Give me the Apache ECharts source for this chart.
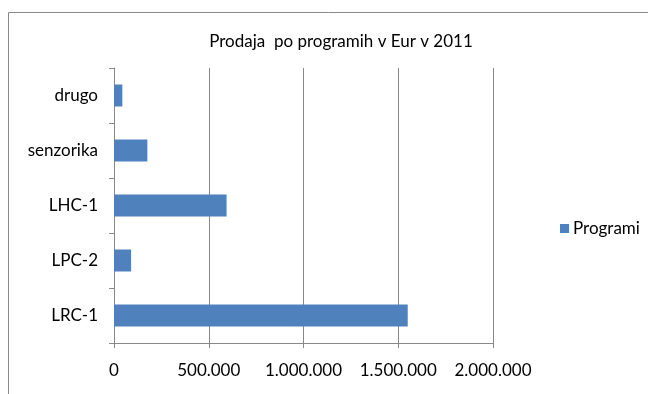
<!DOCTYPE html>
<html>
<head>
<meta charset="utf-8">
<script src="https://cdn.jsdelivr.net/npm/echarts@6/dist/echarts.min.js"></script>
<style>
  html, body { margin: 0; padding: 0; background: #fff; }
  #chart { width: 648px; height: 394px; }
</style>
</head>
<body>
<div id="chart"></div>
<script>
// podatki
var categories = ['LRC-1', 'LPC-2', 'LHC-1', 'senzorika', 'drugo'];
var programiValues = [1550000, 90000, 594000, 176000, 44000];
var xTicks = [0, 500000, 1000000, 1500000, 2000000];

function fmt(v) {
    return String(v).replace(/\B(?=(\d{3})+(?!\d))/g, '.');
}

var myChart = echarts.init(document.getElementById('chart'));
myChart.setOption({
    animation: false,
    textStyle: { fontFamily: 'Lato, "Open Sans", sans-serif' },
    title: {
        text: 'Prodaja  po programih v Eur v 2011',
        left: 336,
        textAlign: 'center',
        top: 28,
        textStyle: { fontSize: 17, fontWeight: 'normal', color: '#000' }
    },
    graphic: [{
        type: 'rect',
        shape: { x: 8.5, y: 12.5, width: 700, height: 500 },
        style: { fill: 'none', stroke: '#8a8a8a', lineWidth: 1 },
        silent: true
    }],
    legend: {
        data: ['Programi'],
        left: 555,
        top: 215,
        itemWidth: 9,
        itemHeight: 9,
        itemGap: 4,
        icon: 'rect',
        textStyle: { fontSize: 17, color: '#000', padding: [0, 0, 0, -1] }
    },
    grid: {
        left: 114,
        right: 155,
        top: 68,
        bottom: 51,
        containLabel: false
    },
    xAxis: {
        type: 'value',
        min: xTicks[0],
        max: xTicks[xTicks.length - 1],
        interval: 500000,
        axisLine: { show: true, lineStyle: { color: '#888' } },
        axisTick: { show: true, length: 5, lineStyle: { color: '#888' } },
        splitLine: { show: true, lineStyle: { color: '#888' } },
        axisLabel: {
            margin: 19,
            fontSize: 17,
            color: '#000',
            formatter: function (v) { return fmt(v); }
        }
    },
    yAxis: {
        type: 'category',
        data: categories,
        axisLine: { show: true, lineStyle: { color: '#888' } },
        axisTick: { show: true, length: 5, lineStyle: { color: '#888' } },
        axisLabel: { margin: 16, fontSize: 17, color: '#000' }
    },
    series: [{
        name: 'Programi',
        type: 'bar',
        data: programiValues,
        barCategoryGap: '60%',
        itemStyle: { color: '#4F81BD' }
    }]
});
</script>
</body>
</html>
